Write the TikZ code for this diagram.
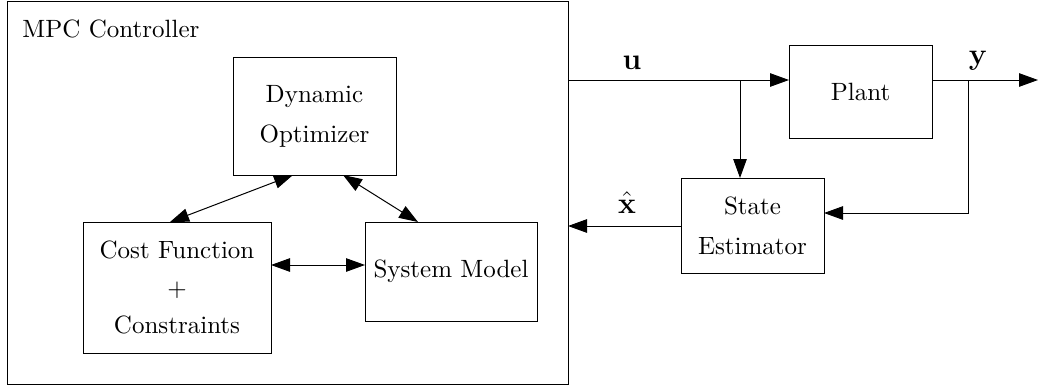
\documentclass[tikz,border=0pt]{standalone}
\usetikzlibrary{arrows.meta}
\begin{document}
\begin{tikzpicture}[x=0.4pt,y=-0.4pt,
  box/.style={draw,line width=0.4pt,rectangle,inner sep=0pt,outer sep=0pt,align=center},
  arr/.style={line width=0.4pt,-{Triangle[length=7.6pt,width=5.4pt]}},
  darr/.style={line width=0.4pt,{Triangle[length=7.6pt,width=5.4pt]}-{Triangle[length=7.6pt,width=5.4pt]}},
  sig/.style={font=\large,anchor=base,inner sep=0pt}]
\useasboundingbox (0,0) rectangle (1038,387);
\node[box,minimum width=224pt,minimum height=152.8pt] (outer) at (288,193) {};
\node[anchor=base west,inner sep=0pt] (title) at (22,37) {MPC Controller};
\node[box,minimum width=65.2pt,minimum height=47.2pt] (do) at (314.5,116) {Dynamic\\[4pt]Optimizer};
\node[box,minimum width=75.2pt,minimum height=52.4pt] (cf) at (177,287.5) {Cost Function\\[3pt]$+$\\[3pt]Constraints};
\node[box,minimum width=68.8pt,minimum height=39.6pt] (sm) at (451,271.5) {System Model};
\node[box,minimum width=57.2pt,minimum height=37.2pt] (plant) at (860.5,91.5) {Plant};
\node[box,minimum width=57.2pt,minimum height=38pt] (se) at (752.5,225.5) {State\\[4pt]Estimator};
\coordinate (uy) at (0,80);
\coordinate (ub) at (740,80);
\coordinate (yb) at (968,80);
\coordinate (yo) at (1038,80);
\coordinate (fy) at (0,213);
\coordinate (xy) at (0,226);
\coordinate (ly) at (0,265);
\draw[arr] (outer.east |- uy) -- (plant.west |- uy);
\draw[arr] (ub) -- (ub |- se.north);
\draw[arr] (plant.east |- uy) -- (yo);
\draw[arr] (yb) |- (se.east |- fy);
\draw[arr] (se.west |- xy) -- (outer.east |- xy);
\coordinate (d1) at (293,175);
\coordinate (c1) at (170,222);
\coordinate (d2) at (343,175);
\coordinate (s2) at (418,222);
\draw[darr] (do.south -| d1) -- (cf.north -| c1);
\draw[darr] (do.south -| d2) -- (sm.north -| s2);
\draw[darr] (cf.east |- ly) -- (sm.west |- ly);
\node[sig] (ulab) at (632,69) {$\mathbf{u}$};
\node[sig] (ylab) at (978,64) {$\mathbf{y}$};
\node[sig] (xlab) at (627,213) {$\hat{\mathbf{x}}$};
\end{tikzpicture}
\end{document}
